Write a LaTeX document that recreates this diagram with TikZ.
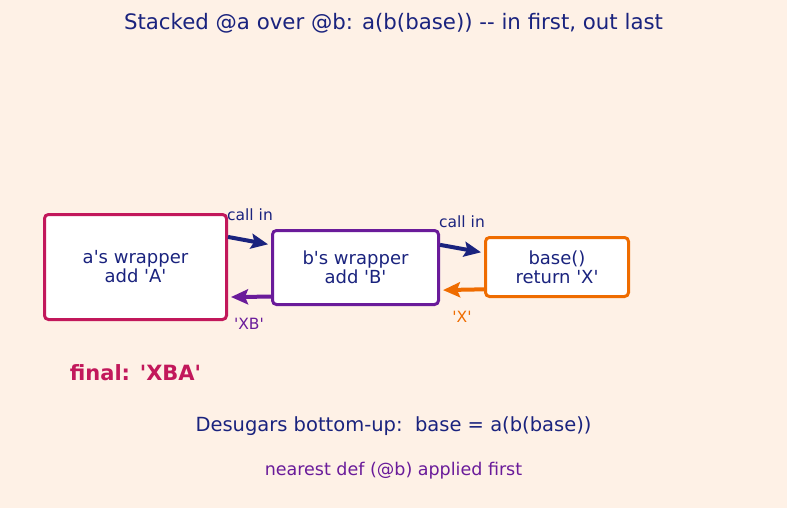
\documentclass[tikz,border=0pt]{standalone}
\usepackage{fontspec}
\setmainfont{DejaVu Sans}[Ligatures=TeXOff]
\usetikzlibrary{arrows.meta}
\definecolor{bgcol}{HTML}{FEF1E6}
\definecolor{navy}{HTML}{1A237E}
\definecolor{crimson}{HTML}{C2185B}
\definecolor{plum}{HTML}{6A1B9A}
\definecolor{tangerine}{HTML}{EF6C00}
\newcommand{\fs}[1]{\fontsize{#1}{#1}\selectfont}
\begin{document}
\begin{tikzpicture}[x=1pt, y=-1pt,
 	wrapbox/.style={draw=#1, line width=3pt, rounded corners=4pt, fill=white,
 		text=navy, align=center, font=\fs{18}, inner sep=0pt},
 	flow/.style={line width=4pt, draw=#1, shorten >=3pt,
 		-{Stealth[length=17pt, width=15pt, inset=3pt, fill=#1]}},
 	tag/.style={font=\fs{15.5}}]
 			%% background and page size
 			\fill[bgcol] (0,0) rectangle (787,508);
 			\node[text=navy, font=\fs{21.3}] (title) at (393.5,23)
 				{Stacked @a over @b: a(b(base)) -- in first, out last};
 		%% the three frames
 			\node[wrapbox=crimson, minimum width=182pt, minimum height=105pt] (wrapA) at (135.5,267)
 				{a's wrapper\\[1pt]add 'A'};
 			\node[wrapbox=plum, minimum width=166pt, minimum height=74pt] (wrapB) at (355.5,267.5)
 				{b's wrapper\\[1pt]add 'B'};
 			\node[wrapbox=tangerine, minimum width=143pt, minimum height=59pt] (base) at (557,267)
 				{base()\\[1pt]return 'X'};
 		%% calls going in
 			\draw[flow=navy] (wrapA.18) -- (wrapB.165);
 			\draw[flow=navy] (wrapB.15) -- (base.169);
 			\node[tag, text=navy] (inA) at (250,215) {call in};
 			\node[tag, text=navy] (inB) at (462,222) {call in};
 		%% values coming out
 			\draw[flow=tangerine] (base.197) -- (wrapB.345);
 			\draw[flow=plum] (wrapB.199) -- (wrapA.342);
 			\node[tag, text=tangerine] (outX) at (462,317) {'X'};
 			\node[tag, text=plum] (outXB) at (249,324) {'XB'};
 		%% result and notes
 			\node[text=crimson, font=\fs{21}\bfseries] (final) at (135.5,373) {final: 'XBA'};
 			\node[text=navy, font=\fs{19.5}] (desugar) at (393.5,426)
 				{Desugars bottom-up:\ \ base = a(b(base))};
 			\node[text=plum, font=\fs{17.5}] (nearest) at (393.5,471)
 				{nearest def (@b) applied first};
 		\end{tikzpicture}
\end{document}
